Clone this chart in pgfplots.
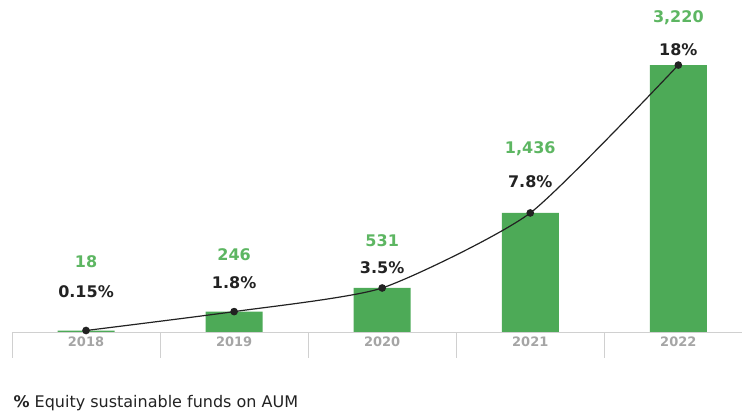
\documentclass[border=0pt]{standalone}
\usepackage{pgfplots}
\pgfplotsset{compat=1.18}
\usepackage{fontspec}
\setmainfont{DejaVu Sans}
\definecolor{bargreen}{HTML}{4DAA57}
\definecolor{labgreen}{HTML}{5DB662}
\definecolor{txt}{HTML}{222222}
\definecolor{tickgray}{HTML}{A5A5A5}
\definecolor{sepgray}{HTML}{D0D0D0}

\begin{document}
\begin{tikzpicture}
\path[use as bounding box] (-12pt,-82pt) rectangle (730pt,332pt);
\begin{axis}[
  scale only axis, width=730pt, height=332pt,
  xmin=-0.5, xmax=4.43, ymin=0, ymax=4005,
  axis x line*=bottom, axis y line=none,
  x axis line style={-, sepgray, line width=0.8pt},
  xtick={0,1,2,3,4}, xticklabels={2018,2019,2020,2021,2022},
  major tick length=0pt,
  minor xtick={-0.5,0.5,1.5,2.5,3.5},
  minor tick length=26pt, tick align=outside,
  minor tick style={sepgray, line width=0.8pt},
  xticklabel style={font=\bfseries\fontsize{13}{13}\selectfont, text=tickgray, yshift=-1pt},
  clip=false,
]
% AUM bars
\addplot[ybar, bar width=57pt, fill=bargreen, draw=none]
  coordinates {(0,18) (1,246) (2,531) (3,1436) (4,3220)};
% share line through bar tops
\addplot[smooth, tension=0.35, txt, line width=1.2pt, mark=*, mark size=3.2pt, mark options={fill=txt}]
  coordinates {(0,18) (1,246) (2,531) (3,1436) (4,3220)};
% value labels
\addplot[draw=none, nodes near coords, point meta=explicit symbolic,
  nodes near coords style={anchor=center, text=labgreen, font=\bfseries\fontsize{16}{16}\selectfont}]
  table[meta=lab] {
x y lab
0 844 18
1 929 246
2 1098 531
3 2207 {1,436}
4 3788 {3,220}
};
% percentage labels
\addplot[draw=none, nodes near coords, point meta=explicit symbolic,
  nodes near coords style={anchor=center, text=txt, font=\bfseries\fontsize{16}{16}\selectfont}]
  table[meta=lab] {
x y lab
0 482 0.15\%
1 591 1.8\%
2 772 3.5\%
3 1809 7.8\%
4 3402 18\%
};
\end{axis}
\node[anchor=base west, text=txt, font=\fontsize{16}{16}\selectfont] at (-2pt,-76pt) {\textbf{\%} Equity sustainable funds on AUM};
\end{tikzpicture}
\end{document}
